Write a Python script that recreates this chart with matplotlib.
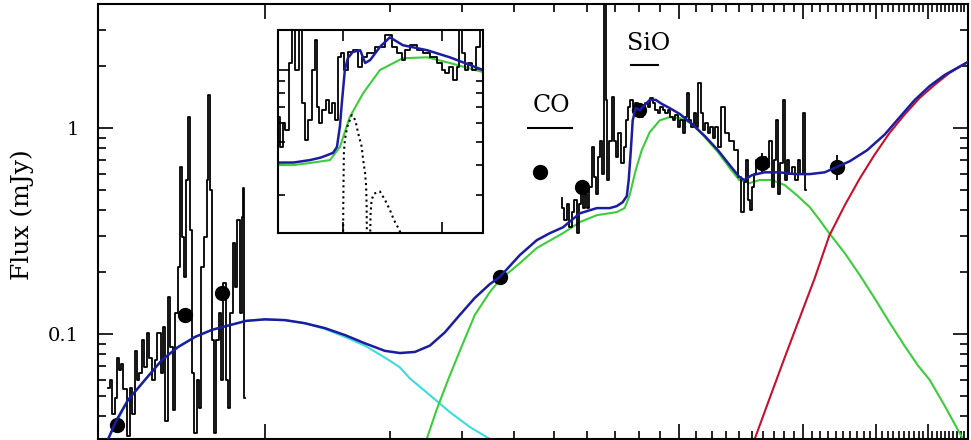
import matplotlib.pyplot as plt
from matplotlib.ticker import LogLocator, NullFormatter, FixedLocator
import numpy as np

# optical spectrum (wavelength in micron, flux in mJy)
opt_wl = [0.418, 0.425, 0.430, 0.437, 0.442, 0.446, 0.451, 0.459, 0.467, 0.475,
          0.480, 0.488, 0.493, 0.502, 0.507, 0.516, 0.522, 0.530, 0.539, 0.545,
          0.555, 0.564, 0.570, 0.577, 0.586, 0.596, 0.603, 0.610, 0.620, 0.627,
          0.634, 0.641, 0.648, 0.655, 0.663, 0.670, 0.678, 0.689, 0.697, 0.708,
          0.720, 0.728, 0.732, 0.741, 0.749, 0.757, 0.766, 0.779, 0.787, 0.796,
          0.810, 0.819, 0.832, 0.841, 0.851, 0.865, 0.875, 0.885, 0.890, 0.895]
opt_flux = [0.055, 0.060, 0.041, 0.049, 0.077, 0.067, 0.072, 0.054, 0.032, 0.055,
            0.041, 0.083, 0.060, 0.065, 0.094, 0.069, 0.101, 0.077, 0.060, 0.075,
            0.101, 0.065, 0.108, 0.038, 0.151, 0.087, 0.043, 0.126, 0.212, 0.647,
            0.296, 0.189, 0.56, 1.13, 0.32, 0.065, 0.033, 0.060, 0.044, 0.212,
            0.296, 0.56, 1.45, 0.50, 0.094, 0.033, 0.094, 0.126, 0.060, 0.177,
            0.060, 0.044, 0.126, 0.277, 0.169, 0.357, 0.126, 0.37, 0.51, 0.049]

# mid-IR spectrum
mir_wl = [5.217, 5.246, 5.335, 5.394, 5.485, 5.546, 5.639, 5.702, 5.766, 5.831,
          5.896, 5.962, 6.029, 6.130, 6.199, 6.302, 6.337, 6.408, 6.479, 6.551,
          6.625, 6.699, 6.736, 6.849, 6.926, 7.003, 7.081, 7.200, 7.321, 7.403,
          7.485, 7.570, 7.697, 7.783, 7.914, 8.002, 8.137, 8.229, 8.367, 8.461,
          8.603, 8.700, 8.846, 8.944, 9.095, 9.198, 9.354, 9.458, 9.618, 9.725,
          9.890, 10.0, 10.17, 10.28, 10.45, 10.51, 10.63, 10.81, 10.93, 11.05,
          11.24, 11.36, 11.49, 11.68, 11.82, 12.02, 12.15, 12.35, 12.49, 12.77,
          13.06, 13.43, 13.81, 14.00, 14.28, 14.44, 14.60, 14.76, 15.01, 15.09,
          15.26, 15.52, 15.87, 16.13, 16.41, 16.69, 16.87, 17.06, 17.25, 17.44,
          17.73, 17.93, 18.13, 18.33, 18.64, 18.85, 19.28, 19.49, 19.82, 20.04,
          20.27]
mir_flux = [0.46, 0.41, 0.357, 0.43, 0.33, 0.39, 0.447, 0.31, 0.43, 0.517,
            0.41, 0.48, 0.41, 0.517, 0.81, 0.58, 0.48, 0.72, 0.87, 0.60,
            5.0, 1.37, 0.56, 0.87, 1.41, 0.87, 0.72, 0.946, 0.676, 0.81,
            1.09, 1.26, 1.37, 1.26, 1.32, 1.22, 1.13, 1.22, 1.32, 1.26,
            1.40, 1.32, 1.22, 1.18, 1.26, 1.22, 1.18, 1.22, 1.13, 1.09,
            1.16, 1.01, 1.09, 0.946, 1.13, 1.48, 1.09, 1.01, 1.18, 1.01,
            1.65, 1.18, 0.978, 1.06, 0.946, 1.01, 0.90, 1.01, 0.81, 1.26,
            0.946, 0.87, 0.78, 0.58, 0.39, 0.55, 0.70, 0.447, 0.40, 0.517,
            0.60, 0.70, 0.647, 0.72, 0.647, 0.87, 0.517, 0.70, 1.09, 0.48,
            0.676, 1.37, 0.56, 0.70, 0.60, 0.647, 0.56, 0.70, 0.60, 1.18,
            0.50]

# photometry
phot_wl = [0.439, 0.641, 0.787, 3.69, 4.62, 5.83, 8.0, 15.87, 24.07]
phot_flux = [0.0362, 0.124, 0.158, 0.189, 0.612, 0.517, 1.22, 0.676, 0.647]
phot_err = [0, 0, 0, 0, 0, 0, 0, 0.08, 0.09]

# model components
hot_wl = [0.418, 0.467, 0.513, 0.564, 0.616, 0.678, 0.745, 0.814, 0.900, 1.0,
          1.118, 1.249, 1.396, 1.561, 1.744, 1.949, 2.119, 2.24, 2.504, 2.80,
          3.13, 3.495]
hot_flux = [0.031, 0.048, 0.060, 0.075, 0.0865, 0.097, 0.105, 0.110, 0.116, 0.118,
            0.117, 0.113, 0.106, 0.097, 0.088, 0.077, 0.069, 0.061, 0.0506, 0.0418,
            0.0354, 0.031]

warm_wl = [2.46, 2.60, 2.77, 2.958, 3.215, 3.495, 3.69, 4.13, 4.54, 5.25,
           5.77, 6.34, 7.08, 7.40, 7.61, 7.87, 8.14, 8.51, 9.00, 9.51,
           10.06, 10.75, 11.56, 12.43, 13.28, 14.0, 14.84, 15.69, 16.77, 18.03,
           19.28, 20.72, 21.9, 23.1, 25.2, 27.4, 29.7, 32.3, 35.1, 37.8,
           40.4, 43.9, 48.3]
warm_flux = [0.031, 0.043, 0.060, 0.083, 0.124, 0.160, 0.183, 0.221, 0.262, 0.309,
             0.35, 0.378, 0.391, 0.409, 0.473, 0.625, 0.782, 0.956, 1.09, 1.13,
             1.12, 1.05, 0.904, 0.765, 0.64, 0.56, 0.541, 0.56, 0.56, 0.529,
             0.473, 0.414, 0.358, 0.309, 0.247, 0.193, 0.150, 0.114, 0.088, 0.0707,
             0.060, 0.045, 0.0317]

cold_wl = [15.26, 16.59, 18.03, 19.60, 21.31, 23.1, 25.2, 27.4, 29.7, 32.3,
           35.1, 38.2, 41.5, 45.1, 49.9]
cold_flux = [0.031, 0.049, 0.077, 0.120, 0.187, 0.30, 0.423, 0.571, 0.74, 0.946,
             1.16, 1.40, 1.62, 1.85, 2.09]

tot_wl = [0.418, 0.437, 0.467, 0.513, 0.564, 0.616, 0.678, 0.745, 0.814, 0.900,
          1.0, 1.118, 1.249, 1.396, 1.561, 1.744, 1.949, 2.119, 2.304, 2.504,
          2.721, 2.958, 3.215, 3.495, 3.69, 4.13, 4.54, 4.88, 5.25, 5.77,
          6.34, 6.81, 7.08, 7.32, 7.49, 7.57, 7.66, 7.74, 7.87, 8.05,
          8.23, 8.51, 8.80, 9.10, 9.51, 10.06, 10.75, 11.56, 12.43, 13.28,
          14.0, 14.4, 15.0, 16.1, 17.5, 19.06, 20.72, 22.53, 24.07, 25.88,
          28.5, 31.45, 34.2, 37.2, 40.4, 43.9, 49.9]
tot_flux = [0.031, 0.038, 0.048, 0.060, 0.075, 0.0865, 0.097, 0.105, 0.110, 0.116,
            0.118, 0.117, 0.113, 0.107, 0.099, 0.0903, 0.083, 0.081, 0.082, 0.088,
            0.102, 0.124, 0.150, 0.175, 0.189, 0.242, 0.286, 0.309, 0.33, 0.386,
            0.409, 0.409, 0.418, 0.437, 0.468, 0.56, 0.782, 1.09, 1.25, 1.22,
            1.28, 1.37, 1.37, 1.31, 1.25, 1.17, 1.05, 0.915, 0.782, 0.661,
            0.58, 0.56, 0.59, 0.61, 0.61, 0.598, 0.598, 0.61, 0.647, 0.69,
            0.78, 0.93, 1.13, 1.37, 1.60, 1.81, 2.09]

# molecular band labels: (wavelength range, flux level of bar, text position)
co_band = [4.32, 5.51]
co_level = 1.0
co_text = (4.93, 1.29)
sio_band = [7.66, 8.90]
sio_level = 2.02
sio_text = (8.46, 2.56)

# inset: zoom on the SiO region
ins_wl = [6.72, 6.76, 6.81, 6.86, 6.95, 7.00, 7.07, 7.15, 7.20, 7.26,
          7.34, 7.40, 7.46, 7.50, 7.55, 7.62, 7.69, 7.74, 7.81, 7.87,
          7.94, 7.99, 8.05, 8.14, 8.25, 8.35, 8.41, 8.55, 8.75, 8.95,
          9.05, 9.15, 9.22, 9.29, 9.42, 9.56, 9.69, 9.83, 9.96, 10.03,
          10.10, 10.20, 10.26, 10.33, 10.38, 10.43, 10.50, 10.57, 10.64, 10.74,
          10.81]
ins_flux = [0.638, 0.478, 0.598, 0.561, 1.07, 1.6, 1.0, 1.6, 0.726, 0.51,
            0.618, 1.0, 1.34, 0.703, 0.598, 0.68, 0.749, 0.659, 0.726, 0.618,
            1.137, 1.175, 1.0, 1.19, 1.21, 1.03, 1.137, 1.175, 1.25, 1.40,
            1.25, 1.175, 1.10, 1.21, 1.27, 1.21, 1.175, 1.137, 1.066, 1.0,
            0.97, 1.03, 0.908, 1.03, 1.6, 1.175, 1.0, 1.066, 1.0, 1.25,
            1.6]
ins_tot_wl = [6.60, 7.0, 7.34, 7.55, 7.68, 7.80, 7.88, 7.94, 7.98, 8.04,
              8.10, 8.20, 8.35, 8.45, 8.55, 8.75, 8.95, 9.21, 9.70, 10.16, 10.83]
ins_tot_flux = [0.41, 0.41, 0.42, 0.43, 0.44, 0.45, 0.476, 0.58, 0.73, 1.0,
                1.12, 1.19, 1.21, 1.07, 1.10, 1.25, 1.37, 1.27, 1.21, 1.13, 1.0]
ins_warm_wl = [6.60, 7.0, 7.4, 7.74, 7.94, 8.14, 8.41, 8.75, 9.21, 9.70, 10.16, 10.83]
ins_warm_flux = [0.40, 0.40, 0.41, 0.42, 0.476, 0.636, 0.80, 1.0, 1.12, 1.13, 1.07, 0.98]
ins_band1_wl = [8.005, 8.008, 8.012, 8.02, 8.04, 8.09, 8.18, 8.25, 8.31, 8.38,
                8.41, 8.45, 8.47, 8.48, 8.485]
ins_band1_flux = [0.20, 0.268, 0.325, 0.448, 0.51, 0.579, 0.648, 0.618, 0.543, 0.478,
                  0.42, 0.369, 0.325, 0.268, 0.20]
ins_band2_wl = [8.55, 8.56, 8.58, 8.63, 8.75, 8.85, 8.95, 9.03, 9.12, 9.18]
ins_band2_flux = [0.20, 0.252, 0.286, 0.304, 0.31, 0.286, 0.26, 0.236, 0.218, 0.205]

BLUE = '#1c1ca0'
GREEN = '#3ccc3c'
CYAN = '#3cdcdc'
RED = '#c8102e'


def style_ticks(ax, major, minor):
    for side in ['top', 'bottom', 'left', 'right']:
        ax.spines[side].set_linewidth(1.5)
    ax.tick_params(which='both', direction='in', top=True, right=True, width=1.2)
    ax.tick_params(which='major', length=major)
    ax.tick_params(which='minor', length=minor)


def plot():
    plt.rcParams['font.family'] = 'serif'
    plt.rcParams['font.serif'] = ['DejaVu Serif']
    fig = plt.figure(figsize=(9.71, 4.40), dpi=100)
    ax = fig.add_axes([98/971, 1/440, 870/971, 435/440])
    ax.set_xscale('log')
    ax.set_yscale('log')

    ax.plot(hot_wl, hot_flux, color=CYAN, lw=1.5, zorder=2)
    ax.plot(warm_wl, warm_flux, color=GREEN, lw=1.5, zorder=2)
    ax.plot(cold_wl, cold_flux, color=RED, lw=1.5, zorder=2)
    ax.plot(opt_wl, opt_flux, color='k', lw=1.3, drawstyle='steps-mid', zorder=3)
    ax.plot(mir_wl, mir_flux, color='k', lw=1.3, drawstyle='steps-mid', zorder=3)
    ax.errorbar(phot_wl, phot_flux, yerr=phot_err, fmt='o', color='k',
                markersize=10, elinewidth=1.3, capsize=0, zorder=4)
    ax.plot(tot_wl, tot_flux, color=BLUE, lw=1.8, zorder=5)

    ax.plot(co_band, [co_level, co_level], color='k', lw=1.5)
    ax.text(co_text[0], co_text[1], 'CO', fontsize=17, ha='center', va='center')
    ax.plot(sio_band, [sio_level, sio_level], color='k', lw=1.5)
    ax.text(sio_text[0], sio_text[1], 'SiO', fontsize=17, ha='center', va='center')

    ax.set_xlim(0.395, 50)
    ax.set_ylim(0.031, 4.0)
    ax.xaxis.set_major_locator(FixedLocator([1, 10, 20, 30, 40]))
    ax.xaxis.set_minor_locator(FixedLocator(list(range(2, 10)) +
                                            [v for v in range(11, 51) if v % 10]))
    ax.xaxis.set_major_formatter(NullFormatter())
    ax.xaxis.set_minor_formatter(NullFormatter())
    ax.yaxis.set_major_locator(FixedLocator([0.1, 1]))
    ax.yaxis.set_minor_locator(LogLocator(subs=np.arange(2, 10)))
    ax.yaxis.set_minor_formatter(NullFormatter())
    ax.set_yticklabels(['0.1', '1'], fontsize=14)
    style_ticks(ax, 11, 6)
    ax.tick_params(axis='y', which='major', pad=14)
    fig.text(22/971, 1 - 215/440, 'Flux (mJy)', rotation=90, fontsize=18,
             ha='center', va='center')

    axin = fig.add_axes([278/971, 1 - 233/440, 205/971, 203/440])
    axin.set_yscale('log')
    axin.plot(ins_warm_wl, ins_warm_flux, color=GREEN, lw=1.5)
    axin.plot(ins_wl, ins_flux, color='k', lw=1.3, drawstyle='steps-mid')
    axin.plot(ins_tot_wl, ins_tot_flux, color=BLUE, lw=1.8)
    axin.plot(ins_band1_wl, ins_band1_flux, color='k', lw=1.5, ls=':')
    axin.plot(ins_band2_wl, ins_band2_flux, color='k', lw=1.5, ls=':')
    axin.set_xlim(6.69, 10.83)
    axin.set_ylim(0.208, 1.47)
    axin.xaxis.set_major_locator(FixedLocator([8, 10]))
    axin.xaxis.set_minor_locator(FixedLocator([]))
    axin.yaxis.set_major_locator(FixedLocator([1]))
    axin.yaxis.set_minor_locator(LogLocator(subs=np.arange(2, 10)))
    axin.xaxis.set_major_formatter(NullFormatter())
    axin.yaxis.set_major_formatter(NullFormatter())
    axin.yaxis.set_minor_formatter(NullFormatter())
    style_ticks(axin, 8, 5)

    fig.savefig("out.png", dpi=100)


plot()
